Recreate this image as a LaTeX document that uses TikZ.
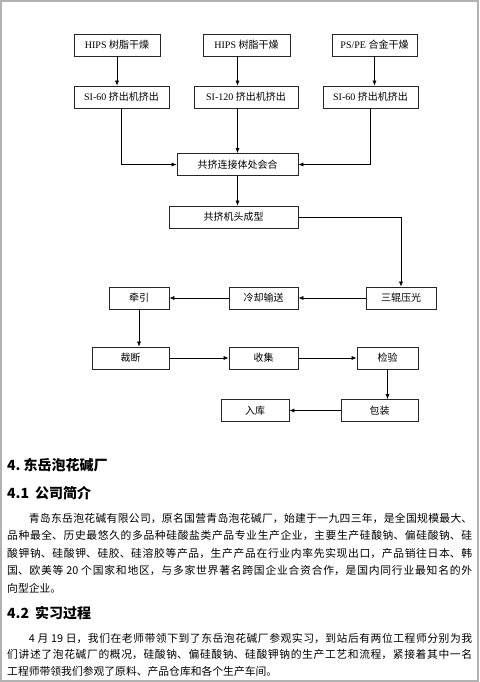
\documentclass[tikz,border=0pt]{standalone}
\usepackage{fontspec}
\setmainfont{Liberation Serif}
\newfontfamily\cjk{Noto Sans CJK SC}
\usetikzlibrary{arrows.meta,positioning,calc}
\XeTeXlinebreaklocale "zh"
\XeTeXlinebreakskip=0pt plus 2pt
\newcommand\nofillend{\parfillskip=0pt\relax}
\newcommand\parindentcjk{\hbox{}\hskip21.6pt\relax}

\tikzset{
  proc/.style={draw=black!85, line width=0.7pt, minimum height=22pt,
    inner sep=0pt, font=\fontsize{10}{12}\selectfont},
  flow/.style={-{Latex[length=5pt,width=4pt]}, line width=0.6pt},
  sechead/.style={anchor=west, inner sep=0pt,
    font=\cjk\bfseries\fontsize{14}{16}\selectfont},
  bodyline/.style={anchor=west, inner sep=0pt, text width=465pt, align=justify,
    font=\cjk\fontsize{10.8}{13}\selectfont,
    execute at begin node=\nofillend},
  bodylast/.style={anchor=west, inner sep=0pt,
    font=\cjk\fontsize{10.8}{13}\selectfont},
}

\begin{document}
\begin{tikzpicture}[x=1pt,y=-1pt]
  \useasboundingbox (0,0) rectangle (479,682);
  \draw[gray!60, line width=1.3pt] (1,1) rectangle (478,681);

  % flow chart
  \node[proc, minimum width=86pt]  (dryA) at (117,45)    {HIPS \cjk 树脂干燥};
  \node[proc, minimum width=87pt]  (dryB) at (246.5,45)  {HIPS \cjk 树脂干燥};
  \node[proc, minimum width=85pt]  (dryC) at (374.5,45)  {PS/PE \cjk 合金干燥};
  \node[proc, minimum width=95pt]  (extA) at (121.5,97)  {SI-60 \cjk 挤出机挤出};
  \node[proc, minimum width=104pt] (extB) at (246,97)    {SI-120 \cjk 挤出机挤出};
  \node[proc, minimum width=95pt]  (extC) at (370.5,97)  {SI-60 \cjk 挤出机挤出};
  \node[proc, minimum width=121pt] (mix) at (237.5,164.5) {\cjk 共挤连接体处会合};
  \node[proc, minimum width=129pt] (mould) at (233.5,217) {\cjk 共挤机头成型};
  \node[proc, minimum width=70pt]  (press) at (401,298)  {\cjk 三辊压光};
  \node[proc, minimum width=69pt]  (cool) at (263.5,298) {\cjk 冷却输送};
  \node[proc, minimum width=60pt]  (pull) at (139,298)   {\cjk 牵引};
  \node[proc, minimum width=77pt]  (cut) at (130.5,358)  {\cjk 裁断};
  \node[proc, minimum width=69pt]  (collect) at (263.5,358) {\cjk 收集};
  \node[proc, minimum width=61pt]  (check) at (387.5,358) {\cjk 检验};
  \node[proc, minimum width=77pt]  (pack) at (379.5,410.5) {\cjk 包装};
  \node[proc, minimum width=68pt]  (store) at (255,410.5) {\cjk 入库};

  \draw[flow] (dryA.south) -- (dryA.south |- extA.north);
  \draw[flow] (dryB.south -| mix.north) -- (extB.north -| mix.north);
  \draw[flow] (dryC.south) -- (dryC.south |- extC.north);
  \draw[flow] (extA.south) |- (mix.west);
  \draw[flow] (extB.south -| mix.north) -- (mix.north);
  \draw[flow] (extC.south) |- (mix.east);
  \draw[flow] (mix.south) -- (mix.south |- mould.north);
  \draw[flow] (mould.east) -| (press.north);
  \draw[flow] (press) -- (cool);
  \draw[flow] (cool) -- (pull);
  \draw[flow] (pull.south) -- (pull.south |- cut.north);
  \draw[flow] (cut) -- (collect);
  \draw[flow] (collect) -- (check);
  \draw[flow] (check.south) -- (check.south |- pack.north);
  \draw[flow] (pack) -- (store);

  % text below
  \node[sechead] (h4) at (7,465) {4.\hspace{3pt}东岳泡花碱厂};
  \node[sechead] (h41) at (7,493) {4.1\hspace{6pt}公司简介};
  \node[bodyline] (p1) at (7,518) {\parindentcjk 青岛东岳泡花碱有限公司，原名国营青岛泡花碱厂，始建于一九四三年，是全国规模最大、};
  \node[bodyline] (p2) at (7,535.5) {品种最全、历史最悠久的多品种硅酸盐类产品专业生产企业，主要生产硅酸钠、偏硅酸钠、硅};
  \node[bodyline] (p3) at (7,553) {酸钾钠、硅酸钾、硅胶、硅溶胶等产品，生产产品在行业内率先实现出口，产品销往日本、韩};
  \node[bodyline] (p4) at (7,570.5) {国、欧美等 20 个国家和地区，与多家世界著名跨国企业合资合作，是国内同行业最知名的外};
  \node[bodylast] (p5) at (7,588) {向型企业。};
  \node[sechead] (h42) at (7,613) {4.2\hspace{6pt}实习过程};
  \node[bodyline] (p6) at (7,638) {\parindentcjk 4 月 19 日，我们在老师带领下到了东岳泡花碱厂参观实习，到站后有两位工程师分别为我};
  \node[bodyline] (p7) at (7,654.5) {们讲述了泡花碱厂的概况，硅酸钠、偏硅酸钠、硅酸钾钠的生产工艺和流程，紧接着其中一名};
  \node[bodylast] (p8) at (7,671) {工程师带领我们参观了原料、产品仓库和各个生产车间。};
\end{tikzpicture}
\end{document}
